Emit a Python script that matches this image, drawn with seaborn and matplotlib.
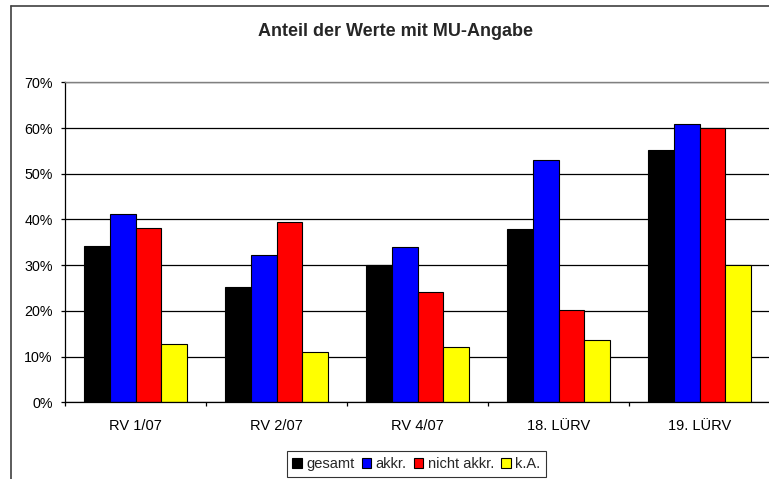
import pandas as pd
import matplotlib
matplotlib.use('Agg')
import matplotlib.pyplot as plt
import seaborn as sns
from matplotlib.ticker import PercentFormatter, FixedLocator
from matplotlib.patches import Patch
from matplotlib.lines import Line2D

# values (fractions)
categories = ['RV 1/07', 'RV 2/07', 'RV 4/07', '18. LÜRV', '19. LÜRV']
gesamt = [0.342, 0.253, 0.301, 0.379, 0.551]
akkr = [0.411, 0.323, 0.340, 0.530, 0.608]
nicht_akkr = [0.381, 0.394, 0.241, 0.202, 0.601]
ka = [0.128, 0.111, 0.121, 0.137, 0.300]
series_names = ['gesamt', 'akkr.', 'nicht akkr.', 'k.A.']
colors = ['#000000', '#0000ff', '#ff0000', '#ffff00']

rows = []
for name, vals in zip(series_names, [gesamt, akkr, nicht_akkr, ka]):
    for cat, v in zip(categories, vals):
        rows.append({'Runde': cat, 'Anteil': v, 'Gruppe': name})
df = pd.DataFrame(rows)

sns.set_style('white')
plt.rcParams['font.family'] = ['Liberation Sans', 'DejaVu Sans']

fig = plt.figure(figsize=(7.69, 4.79), dpi=100)
ax = fig.add_axes([65.3 / 769, 76.7 / 479, (770 - 65.3) / 769, (402.3 - 82.4) / 479])

sns.barplot(data=df, x='Runde', y='Anteil', hue='Gruppe', order=categories,
            hue_order=series_names, palette=colors, saturation=1, width=0.73,
            edgecolor='black', linewidth=0.8, ax=ax, legend=False, errorbar=None)

ax.set_ylim(0, 0.7)
ax.set_xlim(-0.5, 4.5)
ax.yaxis.set_major_locator(FixedLocator([i / 10 for i in range(8)]))
ax.yaxis.set_major_formatter(PercentFormatter(1.0, decimals=0))
ax.set_xlabel('')
ax.set_ylabel('')

# gridlines
ax.yaxis.grid(True, color='black', lw=0.9)
ax.set_axisbelow(True)

for side in ['left', 'bottom']:
    ax.spines[side].set_color('black')
    ax.spines[side].set_linewidth(0.9)
ax.spines['top'].set_color('#808080')
ax.spines['top'].set_linewidth(1.0)
ax.spines['right'].set_visible(False)

ax.tick_params(axis='y', which='major', direction='out', length=3, width=0.9,
               color='black', left=True, pad=6, labelsize=10.3, labelcolor='black')
ax.tick_params(axis='x', which='major', length=0, pad=12, labelsize=10.5, labelcolor='black')
ax.xaxis.set_minor_locator(FixedLocator([i - 0.5 for i in range(6)]))
ax.tick_params(axis='x', which='minor', direction='out', length=3, width=0.9,
               color='black', bottom=True)

fig.text(395.2 / 769, 1 - 31.7 / 479, 'Anteil der Werte mit MU-Angabe',
         ha='center', va='center', fontsize=13, fontweight='bold')

handles = [Patch(facecolor=c, edgecolor='black', linewidth=0.8) for c in colors]
leg = fig.legend(handles, series_names, ncol=4, loc='center',
                 bbox_to_anchor=(416.3 / 769, 1 - 464 / 479), fontsize=10.5,
                 frameon=True, fancybox=False, edgecolor='black',
                 handlelength=0.65, handleheight=0.65, handletextpad=0.3,
                 columnspacing=0.5, borderpad=0.4, borderaxespad=0)
leg.get_frame().set_linewidth(0.8)

# outer chart border (cropped on right and bottom)
fig.add_artist(Line2D([10.5 / 769, 10.5 / 769], [0, 1 - 5.5 / 479],
                      transform=fig.transFigure, color='#404040', lw=1.2))
fig.add_artist(Line2D([10.5 / 769, 1], [1 - 5.5 / 479, 1 - 5.5 / 479],
                      transform=fig.transFigure, color='#404040', lw=1.2))

fig.savefig('out.png', dpi=100)
